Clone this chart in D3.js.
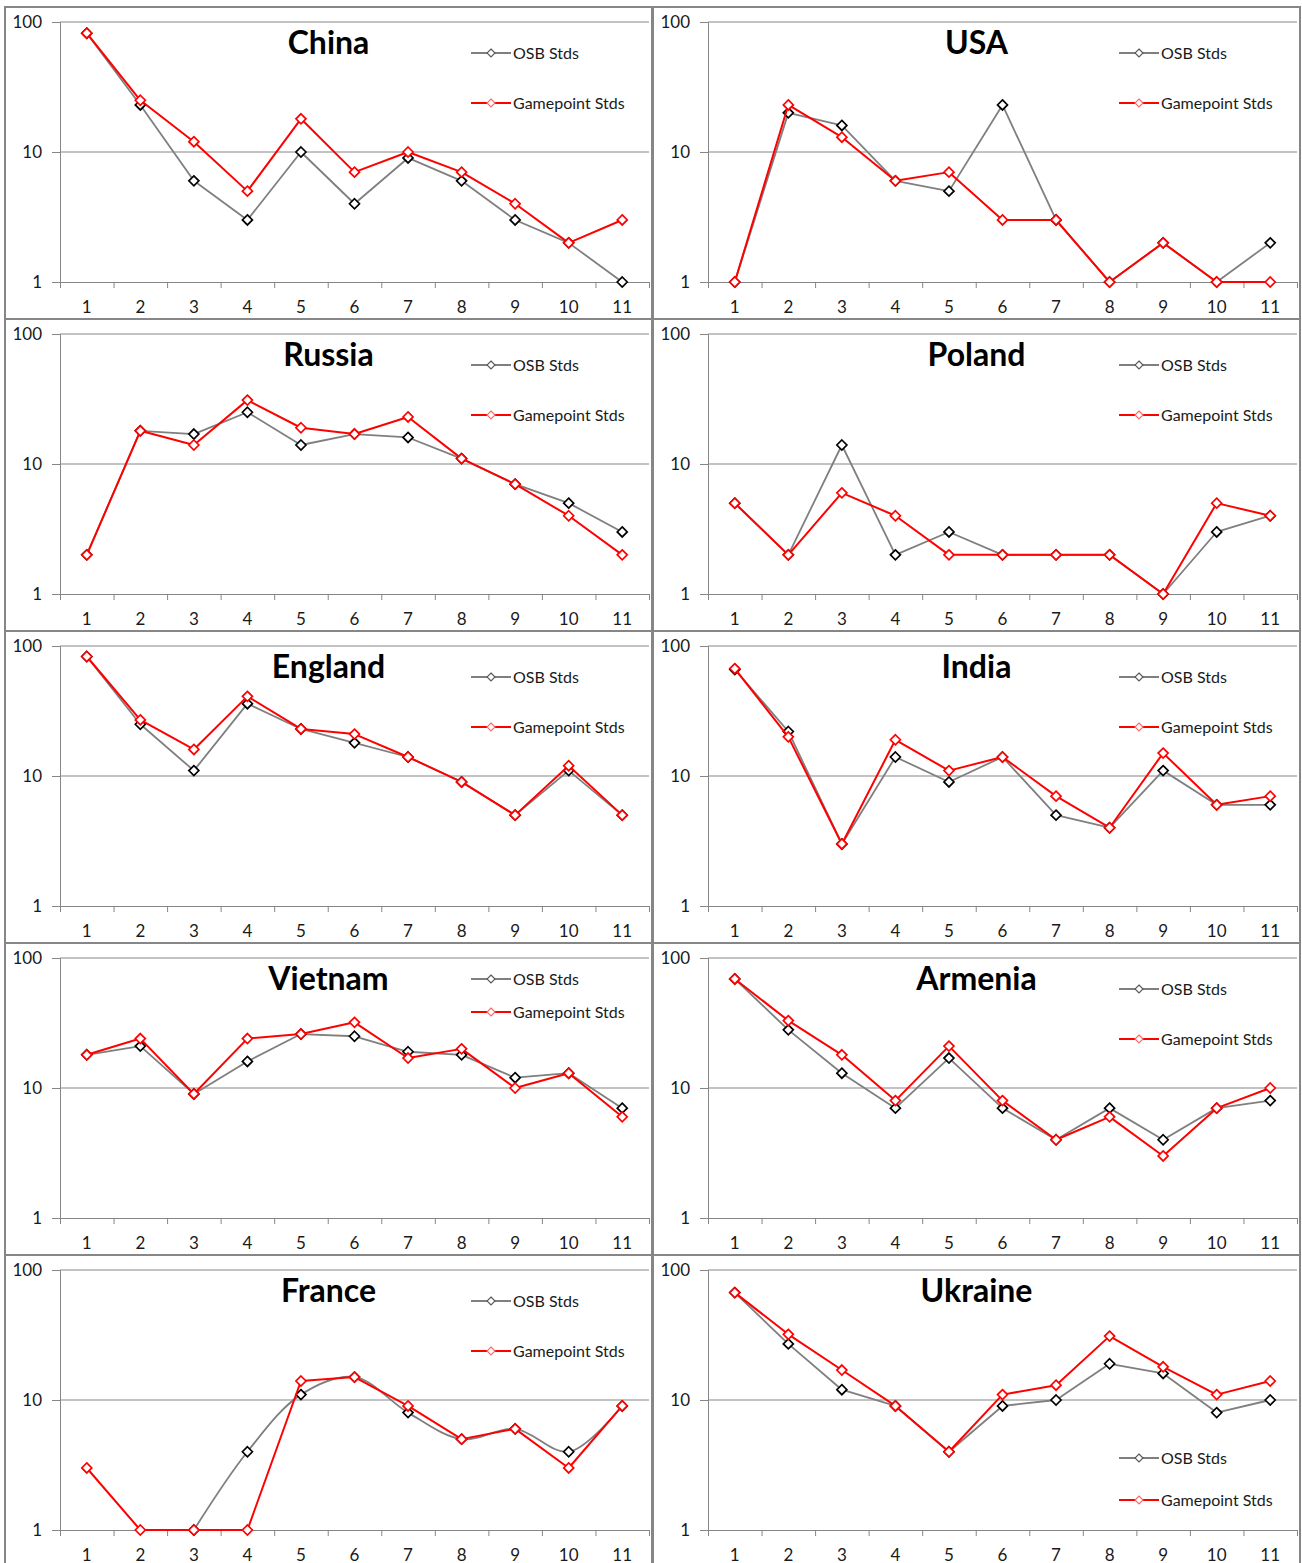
<!DOCTYPE html>
<html>
<head>
<meta charset="utf-8">
<script src="https://cdn.jsdelivr.net/npm/d3@7"></script>
<style>
  html, body { margin: 0; padding: 0; background: #fff; }
  svg { display: block; }
  text { font-family: Lato, "Open Sans", sans-serif; }
</style>
</head>
<body>
<svg id="chart" width="1302" height="1563"></svg>
<script>
// Rounds on the x axis
const rounds = ["1", "2", "3", "4", "5", "6", "7", "8", "9", "10", "11"];
const yTicks = [1, 10, 100];
const seriesNames = ["OSB Stds", "Gamepoint Stds"];

// Number of players per round, one pair of arrays per country
const chinaOsb     = [82, 23, 6, 3, 10, 4, 9, 6, 3, 2, 1];
const chinaGp      = [82, 25, 12, 5, 18, 7, 10, 7, 4, 2, 3];
const usaOsb       = [1, 20, 16, 6, 5, 23, 3, 1, 2, 1, 2];
const usaGp        = [1, 23, 13, 6, 7, 3, 3, 1, 2, 1, 1];
const russiaOsb    = [2, 18, 17, 25, 14, 17, 16, 11, 7, 5, 3];
const russiaGp     = [2, 18, 14, 31, 19, 17, 23, 11, 7, 4, 2];
const polandOsb    = [5, 2, 14, 2, 3, 2, 2, 2, 1, 3, 4];
const polandGp     = [5, 2, 6, 4, 2, 2, 2, 2, 1, 5, 4];
const englandOsb   = [83, 25, 11, 36, 23, 18, 14, 9, 5, 11, 5];
const englandGp    = [83, 27, 16, 41, 23, 21, 14, 9, 5, 12, 5];
const indiaOsb     = [66, 22, 3, 14, 9, 14, 5, 4, 11, 6, 6];
const indiaGp      = [67, 20, 3, 19, 11, 14, 7, 4, 15, 6, 7];
const vietnamOsb   = [18, 21, 9, 16, 26, 25, 19, 18, 12, 13, 7];
const vietnamGp    = [18, 24, 9, 24, 26, 32, 17, 20, 10, 13, 6];
const armeniaOsb   = [69, 28, 13, 7, 17, 7, 4, 7, 4, 7, 8];
const armeniaGp    = [69, 33, 18, 8, 21, 8, 4, 6, 3, 7, 10];
const franceOsb    = [null, null, 1, 4, 11, 15, 8, 5, 6, 4, 9];
const franceGp     = [3, 1, 1, 1, 14, 15, 9, 5, 6, 3, 9];
const ukraineOsb   = [67, 27, 12, 9, 4, 9, 10, 19, 16, 8, 10];
const ukraineGp    = [67, 32, 17, 9, 4, 11, 13, 31, 18, 11, 14];

const countries = ["China", "USA", "Russia", "Poland", "England", "India",
                   "Vietnam", "Armenia", "France", "Ukraine"];
const osbSeries = [chinaOsb, usaOsb, russiaOsb, polandOsb, englandOsb,
                   indiaOsb, vietnamOsb, armeniaOsb, franceOsb, ukraineOsb];
const gpSeries  = [chinaGp, usaGp, russiaGp, polandGp, englandGp,
                   indiaGp, vietnamGp, armeniaGp, franceGp, ukraineGp];

// ---- layout & style ----
const colX = [5, 653];
const panelW = 647, panelH = 312, rowY0 = 7;
const plot = { left: 55, right: 644, top: 15, bottom: 275 };
// legend placement per panel (top row offset, gap between rows)
const legendTop = [46, 46, 46, 46, 46, 46, 36, 46, 46, 203];
const legendGap = [50, 50, 50, 50, 50, 50, 33, 50, 50, 42];
const smoothOsb = { France: true };   // this panel's OSB line is drawn smoothed

const axisColor = "#868686";
const lineColors = ["#7f7f7f", "#ff0000"];
const lineWidths = [1.8, 2];
const markerColors = ["#000000", "#ff0000"];

const svg = d3.select("#chart");

function diamond(r) {
  return `M0,${-r}L${r},0L0,${r}L${-r},0Z`;
}

countries.forEach((name, i) => {
  const col = i % 2, row = Math.floor(i / 2);
  const g = svg.append("g")
    .attr("transform", `translate(${colX[col]},${rowY0 + row * panelH})`);

  // panel frame
  g.append("rect")
    .attr("x", 0).attr("y", 0)
    .attr("width", panelW).attr("height", panelH)
    .attr("fill", "#fff")
    .attr("stroke", axisColor).attr("stroke-width", 2);

  const x = d3.scaleBand().domain(rounds).range([plot.left, plot.right]);
  const xb = d3.scaleLinear().domain([0, rounds.length]).range([plot.left, plot.right]);
  const y = d3.scaleLog().domain([1, 100]).range([plot.bottom, plot.top]);
  const cx = d => x(d) + x.bandwidth() / 2;

  // horizontal gridlines
  g.append("g").selectAll("line")
    .data(yTicks.filter(v => v > 1))
    .join("line")
    .attr("x1", plot.left).attr("x2", plot.right)
    .attr("y1", d => y(d)).attr("y2", d => y(d))
    .attr("stroke", axisColor).attr("stroke-width", 1);

  // y axis
  const yAxis = g.append("g")
    .attr("transform", `translate(${plot.left},0)`)
    .call(d3.axisLeft(y).tickValues(yTicks).tickFormat(d3.format("d"))
      .tickSize(8).tickPadding(10));
  yAxis.select(".domain").attr("stroke", axisColor).attr("stroke-width", 1);
  yAxis.selectAll(".tick line").attr("stroke", axisColor);
  yAxis.selectAll("text")
    .attr("font-family", "Lato, sans-serif").attr("font-size", 17)
    .attr("fill", "#1a1a1a");

  // x axis: boundary ticks, then centred labels
  const xTicks = g.append("g")
    .attr("transform", `translate(0,${plot.bottom})`)
    .call(d3.axisBottom(xb).tickValues(d3.range(rounds.length + 1))
      .tickFormat("").tickSize(6).tickSizeOuter(0));
  xTicks.select(".domain").attr("stroke", axisColor).attr("stroke-width", 1);
  xTicks.selectAll(".tick line").attr("stroke", axisColor);

  const xLabels = g.append("g")
    .attr("transform", `translate(0,${plot.bottom})`)
    .call(d3.axisBottom(x).tickSize(0).tickPadding(19));
  xLabels.select(".domain").remove();
  xLabels.selectAll("text")
    .attr("font-family", "Lato, sans-serif").attr("font-size", 17)
    .attr("fill", "#1a1a1a");

  // series
  [osbSeries[i], gpSeries[i]].forEach((vals, s) => {
    const pts = rounds.map((r, k) => ({ r, v: vals[k] }))
      .filter(d => d.v != null);
    const line = d3.line()
      .x(d => cx(d.r)).y(d => y(d.v))
      .curve(s === 0 && smoothOsb[name] ? d3.curveCatmullRom : d3.curveLinear);
    g.append("path")
      .datum(pts)
      .attr("fill", "none")
      .attr("stroke", lineColors[s])
      .attr("stroke-width", lineWidths[s])
      .attr("stroke-linejoin", "round")
      .attr("d", line);
    g.append("g").selectAll("path")
      .data(pts)
      .join("path")
      .attr("transform", d => `translate(${cx(d.r)},${y(d.v)})`)
      .attr("d", diamond(5))
      .attr("fill", "#fff")
      .attr("stroke", markerColors[s])
      .attr("stroke-width", 1.7);
  });

  // title
  g.append("text")
    .attr("x", panelW / 2).attr("y", 47)
    .attr("text-anchor", "middle")
    .attr("font-family", "Lato, sans-serif")
    .attr("font-weight", "bold")
    .attr("font-size", 32)
    .attr("fill", "#000")
    .text(name);

  // legend
  const lg = g.append("g").attr("transform", `translate(466,${legendTop[i]})`);
  seriesNames.forEach((label, s) => {
    const ly = s * legendGap[i];
    lg.append("line")
      .attr("x1", 0).attr("x2", 40).attr("y1", ly).attr("y2", ly)
      .attr("stroke", lineColors[s]).attr("stroke-width", 2);
    lg.append("path")
      .attr("transform", `translate(20,${ly})`)
      .attr("d", diamond(4))
      .attr("fill", "#fff")
      .attr("stroke", s === 0 ? "#555" : "#ff6666")
      .attr("stroke-width", 1.1);
    lg.append("text")
      .attr("x", 42).attr("y", ly)
      .attr("dy", "0.35em")
      .attr("font-family", "Lato, sans-serif")
      .attr("font-size", 16)
      .attr("fill", "#1a1a1a")
      .text(label);
  });
});
</script>
</body>
</html>
